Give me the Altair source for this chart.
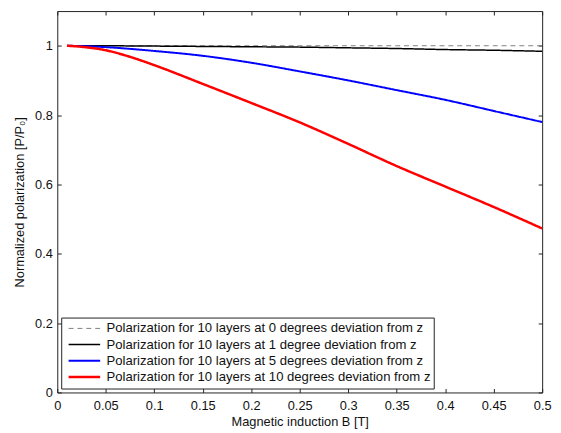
import altair as alt
import pandas as pd

# Magnetic induction B [T]
b_values = [0.01, 0.025, 0.05, 0.075, 0.10, 0.15, 0.20, 0.25, 0.30, 0.35, 0.40, 0.45, 0.50]

# Normalized polarization for each deviation angle
p_0deg = [1.0, 1.0, 1.0, 1.0, 1.0, 1.0, 1.0, 1.0, 1.0, 1.0, 1.0, 1.0, 1.0]
p_1deg = [1.0, 1.0, 1.0, 0.9995, 0.999, 0.998, 0.997, 0.996, 0.994, 0.992, 0.989, 0.987, 0.984]
p_5deg = [1.0, 0.999, 0.996, 0.991, 0.985, 0.971, 0.951, 0.926, 0.900, 0.872, 0.844, 0.812, 0.780]
p_10deg = [1.0, 0.997, 0.987, 0.968, 0.944, 0.890, 0.835, 0.779, 0.717, 0.653, 0.594, 0.535, 0.473]

series_labels = [
    "Polarization for 10 layers at 0 degrees deviation from z",
    "Polarization for 10 layers at 1 degree deviation from z",
    "Polarization for 10 layers at 5 degrees deviation from z",
    "Polarization for 10 layers at 10 degrees deviation from z",
]
series_colors = ["#808080", "#000000", "#0000ff", "#ff0000"]
series_dash = [[5, 4], [1, 0], [1, 0], [1, 0]]
series_width = [1, 2.5, 2.5, 2.5]

x_ticks = [0, 0.05, 0.1, 0.15, 0.2, 0.25, 0.3, 0.35, 0.4, 0.45, 0.5]
y_ticks = [0, 0.2, 0.4, 0.6, 0.8, 1.0]

rows = []
for label, vals in zip(series_labels, [p_0deg, p_1deg, p_5deg, p_10deg]):
    for b, p in zip(b_values, vals):
        rows.append({"B": b, "P": p, "series": label})
df = pd.DataFrame(rows)

FONT = "Liberation Sans"
x_scale = alt.Scale(domain=[0, 0.5], nice=False, zero=False)
y_scale = alt.Scale(domain=[0, 1.1], nice=False, zero=False)

legend = alt.Legend(
    title=None, orient="bottom-left", offset=4, strokeColor="#222222",
    fillColor="white", padding=3, labelFont=FONT, labelFontSize=13.3,
    labelLimit=600, symbolType="stroke", symbolSize=1024,
    clipHeight=16, rowPadding=0.4, labelOffset=5, symbolOffset=3,
    cornerRadius=0, labelColor="#111111",
)

lines = alt.Chart(df).mark_line(interpolate="monotone").encode(
    x=alt.X("B:Q", scale=x_scale, axis=alt.Axis(
        orient="bottom", values=x_ticks, format="~g", offset=-4, tickSize=4,
        domain=False, labelPadding=7, labelFlush=False, labelOverlap=False,
        title="Magnetic induction B [T]", titlePadding=4)),
    y=alt.Y("P:Q", scale=y_scale, axis=alt.Axis(
        orient="left", values=y_ticks, format="~g", offset=-4, tickSize=4,
        domain=False, labelPadding=5, labelFlush=False, labelOverlap=False,
        title="Normalized polarization [P/P₀]", titlePadding=8)),
    color=alt.Color("series:N", scale=alt.Scale(domain=series_labels, range=series_colors),
                    sort=series_labels, legend=legend),
    strokeDash=alt.StrokeDash("series:N", scale=alt.Scale(domain=series_labels, range=series_dash),
                              sort=series_labels, legend=legend),
    strokeWidth=alt.StrokeWidth("series:N", scale=alt.Scale(domain=series_labels, range=series_width),
                                sort=series_labels, legend=legend),
)

ticks = alt.Chart(df).mark_point(opacity=0).encode(
    x=alt.X("B:Q", scale=x_scale, axis=alt.Axis(
        orient="top", values=x_ticks, offset=-4, tickSize=4, domain=False,
        labels=False, title=None)),
    y=alt.Y("P:Q", scale=y_scale, axis=alt.Axis(
        orient="right", values=y_ticks, offset=-4, tickSize=4, domain=False,
        labels=False, title=None)),
)

chart = alt.layer(lines, ticks).resolve_axis(x="independent", y="independent").properties(
    width=492, height=387,
    autosize=alt.AutoSizeParams(type="none"),
    padding={"left": 50, "top": 0, "right": 11, "bottom": 38},
).configure_view(stroke="#222222", strokeWidth=1).configure_axis(
    grid=False, tickColor="#222222", tickWidth=1, labelColor="#111111",
    titleColor="#111111", labelFont=FONT, titleFont=FONT, labelFontSize=13,
    titleFontSize=13, titleFontWeight="normal",
)

chart.save("out.html", embed_options={"renderer": "svg", "actions": False})
